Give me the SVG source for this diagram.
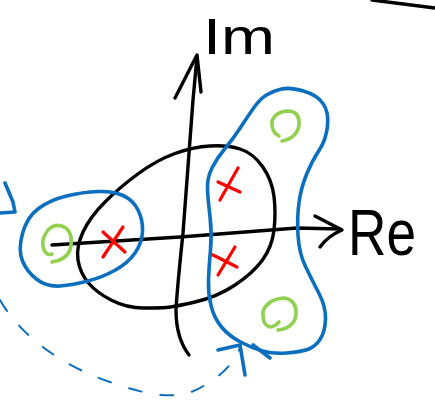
<svg xmlns="http://www.w3.org/2000/svg" width="435" height="402" viewBox="0 0 435 402">
<style>
.k{fill:none;stroke:#000;stroke-width:3.4;stroke-linecap:round;stroke-linejoin:round}
.b{fill:none;stroke:#0A6FBE;stroke-width:3.6;stroke-linecap:round;stroke-linejoin:round}
.bd{fill:none;stroke:#0A6FBE;stroke-width:2;stroke-linecap:round;stroke-dasharray:13 19}
.r{fill:none;stroke:#FF0000;stroke-width:3.2;stroke-linecap:round}
.g{fill:none;stroke:#92D050;stroke-width:3.6;stroke-linecap:round;stroke-linejoin:round}
.t{font-family:"Liberation Sans",Arial,sans-serif;fill:#000}
</style>
<rect width="435" height="402" fill="#fff"/>
<path class="k" d="M372,0 L435,8"/>
<g id="unit-loop">
<path class="k" d="M195,302 Q217,297 235,285 Q253,273 262.5,260 Q272,247 274,230 Q276,213 274,196.5 Q272,180 262.5,166.5 Q253,153 240,149 Q227,145 210,146 Q193,147 175,153.5 Q157,160 138.5,173.5 Q120,187 105,202 Q90,217 83,232 Q76,247 78,260 Q80,273 88.5,283 Q97,293 112,300.5 Q127,308 143.5,308 Q160,308 166.5,307.5 Q173,307 195,302 Z"/>
</g>
<g id="connectors">
<path class="k" d="M189,355 Q176,338 176,310 Q177,290 183,233 L193,100 L197,57"/>
<path class="k" d="M175,98 L197,55 L201,92"/>
<path class="k" d="M52,245 L180,237 L297,228 L340,229"/>
<path class="k" d="M315,216 L342,230 Q328,236 320,247"/>
<path class="bd" d="M0,300 C20,335 60,365 110,382 C150,396 180,402 205,385 C220,376 232,366 240,348"/>
<path class="b" d="M218,350 L240,345 L245,375"/>
<path class="b" d="M5,183 L13,202 L15,212 L0,213"/>
</g>
<g id="left-group">
<path class="b" d="M22.5,233.5 Q27,217 38.5,208.5 Q50,200 66.5,196 Q83,192 98,191.5 Q113,191 123,195.5 Q133,200 138,210 Q143,220 142.5,231.5 Q142,243 135,253 Q128,263 115.5,270 Q103,277 88,281 Q73,285 60,286 Q47,287 37,279.5 Q27,272 22.5,261 Q18,250 22.5,233.5 Z"/>
</g>
<g id="right-group">
<path class="b" d="M303.5,91 Q317,95 323,103.5 Q329,112 327.5,126 Q326,140 319,150.5 Q312,161 306.5,174.5 Q301,188 299,202.5 Q297,217 298,235 Q299,253 305.5,266.5 Q312,280 319,293.5 Q326,307 325.5,319.5 Q325,332 320,339.5 Q315,347 307.5,349.5 Q300,352 286.5,353 Q273,354 262.5,351 Q252,348 240.5,342 Q229,336 221.5,327 Q214,318 211,305.5 Q208,293 208.5,280 Q209,267 210.5,250 Q212,233 210,216.5 Q208,200 207.5,189 Q207,178 212,168 Q217,158 225,148.5 Q233,139 240.5,127.5 Q248,116 254,107.5 Q260,99 266.5,95 Q273,91 281.5,89 Q290,87 303.5,91 Z"/>
<path class="b" d="M253,345 L270,358"/>
</g>
<g id="zero-left"><path class="g" d="M52,262 Q66,260 70,250 Q74,235 66,228 Q56,222 48,230 Q40,240 44,250 Q47,256 52,254"/></g>
<g id="zero-top"><path class="g" d="M282,141 Q297,138 299,125 Q300,112 289,111 Q276,111 272,121 Q271,132 279,136"/></g>
<g id="zero-bottom"><path class="g" d="M278,330 Q294,328 296,315 Q297,300 284,298 Q268,299 263,311 Q262,325 270,327 Q276,326 279,322"/></g>
<g id="pole-left"><path class="r" d="M103,232 L125,252 M123,227 L103,257"/></g>
<g id="pole-top"><path class="r" d="M218,182 L240,192 M238,168 L220,200"/></g>
<g id="pole-bottom"><path class="r" d="M213,255 L237,267 M235,247 L218,275"/></g>
<g id="labels">
<text class="t" x="203" y="54" font-size="50" textLength="72" lengthAdjust="spacingAndGlyphs">Im</text>
<text class="t" x="348" y="255" font-size="64" textLength="68" lengthAdjust="spacingAndGlyphs">Re</text>
</g>
</svg>
